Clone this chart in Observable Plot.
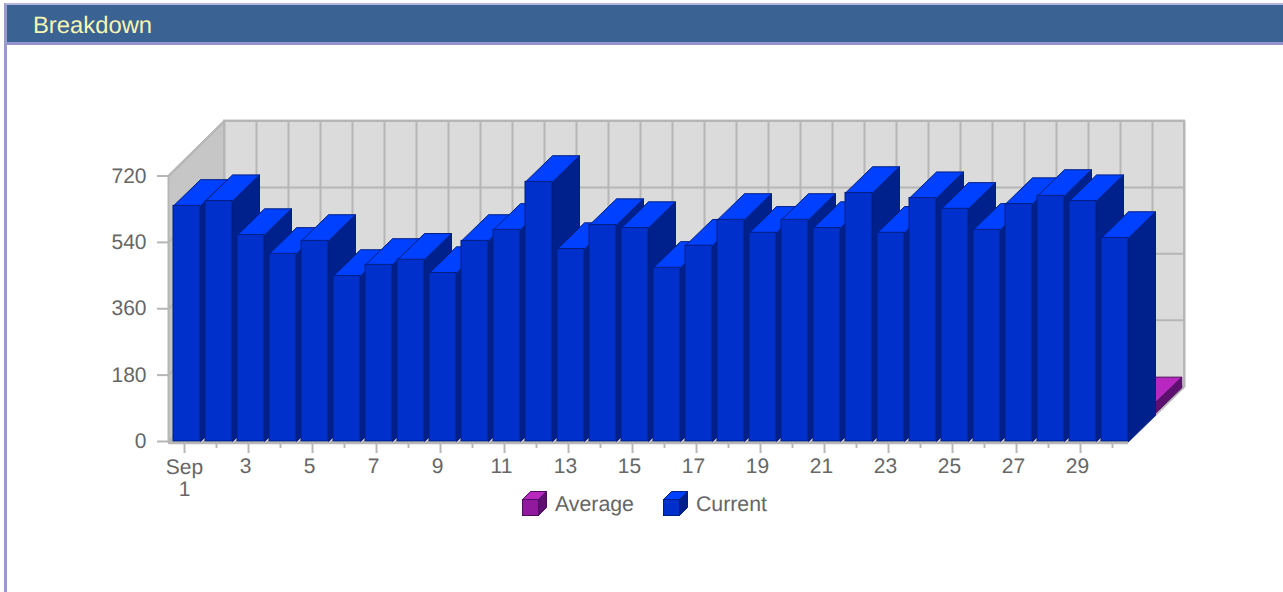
<!DOCTYPE html>
<html>
<head>
<meta charset="utf-8">
<script src="https://cdn.jsdelivr.net/npm/d3@7"></script>
<script src="https://cdn.jsdelivr.net/npm/@observablehq/plot@0.6"></script>
<style>
  html, body { margin: 0; padding: 0; background: #fff; overflow: hidden; text-rendering: geometricPrecision; }
  body { width: 1283px; height: 592px; position: relative; font-family: "Liberation Sans", Arial, sans-serif; }
  #panel { position: absolute; left: 4px; top: 3px; width: 1277px; height: 600px; border-left: 3px solid #9a9acf; border-top: 2px solid #b3b3dc; border-right: 1px solid #d8d8f0; box-sizing: content-box; }
  #head { height: 37px; background: #3a6292; border-bottom: 3px solid #9494cc; color: #f6f6b4; font-size: 23.8px; line-height: 41px; padding-left: 26px; overflow: hidden; }
  #chart { position: absolute; left: 0; top: 45px; }
  #chart svg { display: block; }
  #legend { position: absolute; left: 522px; top: 491px; height: 25px; display: flex; align-items: center; color: #666; font-size: 21.3px; }
  #legend svg { display: block; margin-right: 8px; }
  #legend span { display: inline-block; margin-right: 29px; position: relative; top: 1px; }
</style>
</head>
<body>
<div id="panel"><div id="head">Breakdown</div></div>
<div id="chart"></div>
<div id="legend"></div>
<script>
const days = d3.range(1, 31);
const currentValues = [639, 652, 560, 509, 544, 449, 479, 493, 457, 544, 574, 704, 522, 587, 579, 471, 531, 601, 566, 601, 579, 674, 566, 660, 631, 574, 644, 666, 652, 552];
const averageDays = [30];
const averageValues = [29];
const yTicks = [0, 180, 360, 540, 720];
const xLabelTicks = [3, 5, 7, 9, 11, 13, 15, 17, 19, 21, 23, 25, 27, 29];
const xMinorTicks = d3.range(2, 31, 2);
const seriesNames = ["Average", "Current"];

const colors = {
  Current: { front: "#0030cc", side: "#00208c", top: "#0040ff", edge: "#001f84" },
  Average: { front: "#8f1a9e", side: "#5e1070", top: "#b828c0", edge: "#4e0c60" }
};

// oblique projection expressed in data units
const wallDepthX = 1.75, wallDepthY = 149;
const barDepthX = 27 / 32, barDepthY = 71;
const barInset = 5 / 32;
const rowShiftX = 0.82, rowShiftY = 74.5;
const yTop = 720;

function bar(day, value, shiftX, shiftY) {
  const x1 = day - 0.5 + barInset + shiftX, x2 = day + 0.5 + shiftX;
  const y0 = shiftY, y1 = value + shiftY;
  return { day, x1, x2, y0, y1 };
}
const poly = (id, pts) => pts.concat([pts[0]]).map(([x, y]) => ({ id, x, y }));
const sideFaces = (bars) => bars.flatMap(b => poly(b.day, [[b.x2, b.y0], [b.x2 + barDepthX, b.y0 + barDepthY], [b.x2 + barDepthX, b.y1 + barDepthY], [b.x2, b.y1]]));
const topFaces = (bars) => bars.flatMap(b => poly(b.day, [[b.x1, b.y1], [b.x2, b.y1], [b.x2 + barDepthX, b.y1 + barDepthY], [b.x1 + barDepthX, b.y1 + barDepthY]]));

function barMarks(bars, c) {
  return [
    Plot.line(sideFaces(bars), { x: "x", y: "y", z: "id", fill: c.side, stroke: c.edge, strokeWidth: 1 }),
    Plot.line(topFaces(bars), { x: "x", y: "y", z: "id", fill: c.top, stroke: c.edge, strokeWidth: 1 }),
    Plot.rect(bars, { x1: "x1", x2: "x2", y1: "y0", y2: "y1", fill: c.front, stroke: c.edge, strokeWidth: 1 })
  ];
}

const currentBars = days.map((d, i) => bar(d, currentValues[i], 0, 0));
const averageBars = averageDays.map((d, i) => bar(d, averageValues[i], rowShiftX, rowShiftY));

const x0 = 0.5, x1 = 30.5;
const wallStroke = "#b6b6b6";
const frameBottom = 396, frameTop = 130.5;
const svgHeight = 456;

const plot = Plot.plot({
  width: 1283,
  height: svgHeight,
  marginLeft: 168,
  marginRight: 99,
  marginTop: 60,
  marginBottom: svgHeight - frameBottom - 2,
  x: { type: "linear", domain: [x0, x1 + wallDepthX], range: [168, 1184] },
  y: { type: "linear", domain: [0, yTop], range: [frameBottom, frameTop] },
  style: { fontFamily: "Liberation Sans, Arial, sans-serif", background: "transparent", overflow: "visible" },
  marks: [
    // floor
    Plot.line(poly(0, [[x0, 0], [x1, 0], [x1 + wallDepthX, wallDepthY], [x0 + wallDepthX, wallDepthY]]), { x: "x", y: "y", z: "id", fill: "#c6c6c6", stroke: wallStroke, strokeWidth: 2 }),
    // left wall
    Plot.line(poly(0, [[x0, 0], [x0 + wallDepthX, wallDepthY], [x0 + wallDepthX, yTop + wallDepthY], [x0, yTop]]), { x: "x", y: "y", z: "id", fill: "#c6c6c6", stroke: wallStroke, strokeWidth: 2 }),
    // back wall
    Plot.rect([0], { x1: x0 + wallDepthX, x2: x1 + wallDepthX, y1: wallDepthY, y2: yTop + wallDepthY, fill: "#dbdbdb", stroke: wallStroke, strokeWidth: 2 }),
    // wall grid
    Plot.ruleX(d3.range(0, 31), { x: i => x0 + wallDepthX + i, y1: wallDepthY, y2: yTop + wallDepthY, stroke: wallStroke, strokeWidth: 2, strokeOpacity: 1 }),
    Plot.ruleY(yTicks, { y: v => v + wallDepthY, x1: x0 + wallDepthX, x2: x1 + wallDepthX, stroke: wallStroke, strokeWidth: 2 }),
    Plot.link(yTicks, { x1: x0, y1: v => v, x2: x0 + wallDepthX, y2: v => v + wallDepthY, stroke: wallStroke, strokeWidth: 2 }),
    // bars: back row, then front row
    ...barMarks(averageBars, colors.Average),
    ...barMarks(currentBars, colors.Current),
    // axes
    Plot.ruleY([0], { x1: x0, x2: x1, stroke: wallStroke, strokeWidth: 2.5, dy: 1.5 }),
    Plot.axisY({ ticks: yTicks, tickSize: 11, tickPadding: 11, fontSize: 21, stroke: wallStroke, strokeWidth: 2, fill: "#666", label: null, tickFormat: d => d, textStrokeOpacity: 0 }),
    Plot.axisX({ ticks: [1].concat(xLabelTicks), tickSize: 10, tickFormat: () => "", stroke: wallStroke, strokeWidth: 2, label: null }),
    Plot.axisX({ ticks: xMinorTicks, tickSize: 5, tickFormat: () => "", stroke: wallStroke, strokeWidth: 2, label: null }),
    Plot.axisX({ ticks: [1], tickSize: 0, tickPadding: 15, tickFormat: () => "Sep\n1", fontSize: 21, fill: "#666", lineHeight: 1.05, label: null }),
    Plot.axisX({ ticks: xLabelTicks, tickSize: 0, tickPadding: 14.5, fontSize: 21, fill: "#666", dx: -3, label: null, tickFormat: d => d })
  ]
});
document.getElementById("chart").appendChild(plot);

// legend swatches
const legend = document.getElementById("legend");
seriesNames.forEach((name) => {
  const c = colors[name];
  const item = document.createElementNS("http://www.w3.org/2000/svg", "svg");
  item.setAttribute("width", 25);
  item.setAttribute("height", 25);
  item.innerHTML =
    `<g stroke="${c.edge}" stroke-width="1">` +
    `<polygon points="16.5,8.5 24.5,0.5 24.5,16.5 16.5,24.5" fill="${c.side}"/>` +
    `<polygon points="0.5,8.5 8.5,0.5 24.5,0.5 16.5,8.5" fill="${c.top}"/>` +
    `<rect x="0.5" y="8.5" width="16" height="16" fill="${c.front}"/></g>`;
  legend.appendChild(item);
  const label = document.createElement("span");
  label.textContent = name;
  legend.appendChild(label);
});
</script>
</body>
</html>
